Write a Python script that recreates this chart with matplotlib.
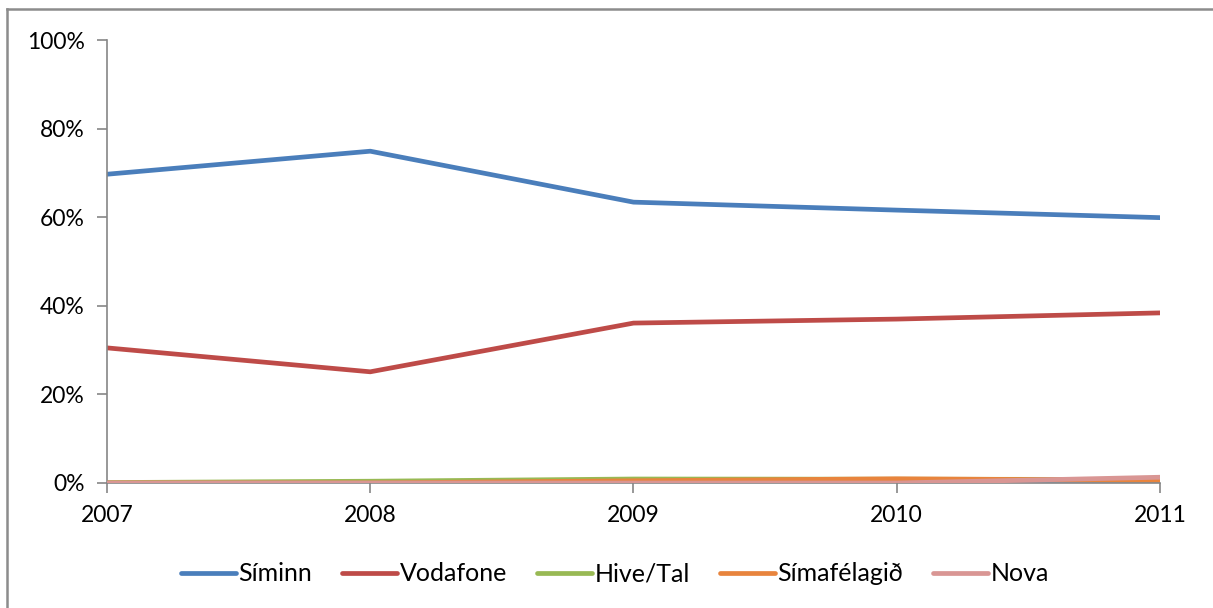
import matplotlib
matplotlib.use("Agg")
import matplotlib.pyplot as plt
from matplotlib.lines import Line2D
from matplotlib.ticker import FuncFormatter

plt.rcParams['font.family'] = ['Lato', 'DejaVu Sans']

years = [2007, 2008, 2009, 2010, 2011]
siminn = [69.7, 74.9, 63.4, 61.6, 59.9]
vodafone = [30.5, 25.1, 36.1, 37.0, 38.4]
hive_tal = [0.1, 0.4, 0.9, 0.85, 0.8]
simafelagid = [0.0, 0.0, 0.5, 0.95, 0.6]
nova = [0.0, 0.0, 0.0, 0.0, 1.3]
other = [0.0, 0.0, 0.0, 0.0, 0.0]
y_ticks = [0, 20, 40, 60, 80, 100]

series = [
    ("Síminn", siminn, "#4A7EBB"),
    ("Vodafone", vodafone, "#BE4B48"),
    ("Hive/Tal", hive_tal, "#98B954"),
    ("Símafélagið", simafelagid, "#E8843D"),
    ("Nova", nova, "#D99694"),
]

fig = plt.figure(figsize=(12.13, 6.08), dpi=100)
ax = fig.add_axes([0.0882, 0.2056, 0.9563 - 0.0882, 0.9342 - 0.2056])

ax.plot(years, other, color="#8EA9D8", lw=3.4, solid_capstyle="round", zorder=1)
for name, vals, col in series:
    z = 3 if name == "Nova" else 2
    ax.plot(years, vals, color=col, lw=3.4, label=name, solid_capstyle="round", zorder=z)

ax.set_xlim(2007, 2011)
ax.set_ylim(0, 100)
ax.set_yticks(y_ticks)
ax.yaxis.set_major_formatter(FuncFormatter(lambda v, p: f"{int(v)}%"))
ax.set_xticks(years)
for s in ["top", "right"]:
    ax.spines[s].set_visible(False)
for s in ["left", "bottom"]:
    ax.spines[s].set_color("#868686")
    ax.spines[s].set_linewidth(1.2)
ax.tick_params(axis="both", colors="#868686", length=7, width=1.2, labelsize=16.5,
               labelcolor="black", direction="out")
ax.tick_params(axis="y", pad=9)
ax.tick_params(axis="x", pad=9)
for lbl in ax.get_xticklabels() + ax.get_yticklabels():
    lbl.set_clip_on(False)

leg = fig.legend(loc="center", bbox_to_anchor=(0.507, 0.056), ncol=5, frameon=False,
                 fontsize=18, handlelength=2.2, handletextpad=0.1, columnspacing=1.2)

# chart area border (top and left)
fig.add_artist(Line2D([7/1213, 1], [1 - 9/608, 1 - 9/608], color="#8c8c8c", lw=1.8,
                      transform=fig.transFigure))
fig.add_artist(Line2D([7/1213, 7/1213], [0, 1 - 9/608], color="#8c8c8c", lw=1.8,
                      transform=fig.transFigure))

fig.savefig("out.png", dpi=100)
